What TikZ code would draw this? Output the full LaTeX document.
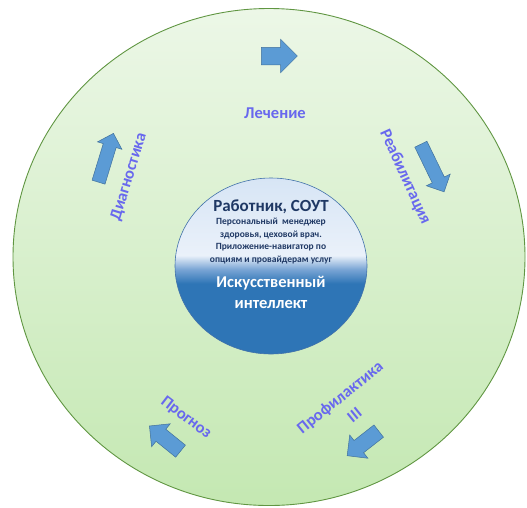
\documentclass[tikz,border=0pt]{standalone}
\usepackage{fontspec}
\setmainfont{Carlito}
\usetikzlibrary{shapes.geometric, shapes.arrows, positioning}
\definecolor{ringgreen}{RGB}{96,150,66}
\definecolor{ringtop}{RGB}{236,247,231}
\definecolor{ringbottom}{RGB}{196,232,178}
\definecolor{coredark}{RGB}{46,117,182}
\definecolor{coremid}{RGB}{120,164,212}
\definecolor{corepale}{RGB}{234,241,250}
\definecolor{corelight}{RGB}{215,229,245}
\definecolor{coreedge}{RGB}{65,113,170}
\definecolor{navytext}{RGB}{31,56,100}
\definecolor{stagetext}{RGB}{104,104,238}
\definecolor{arrowfill}{RGB}{91,155,213}
\definecolor{arrowedge}{RGB}{65,113,156}
\pgfdeclareverticalshading{coreshade}{100bp}{color(0bp)=(coredark); color(45bp)=(coredark);
  color(49bp)=(coremid); color(53bp)=(corepale); color(75bp)=(corelight); color(100bp)=(corelight)}
\tikzset{
  ring/.style={
    ellipse, draw=ringgreen, line width=0.9pt, top color=ringtop, bottom color=ringbottom,
    minimum width=512pt, minimum height=497pt, inner sep=0pt
  },
  core/.style={
    ellipse, draw=coreedge, line width=0.6pt, shade, shading=coreshade,
    minimum width=192pt, minimum height=176pt, inner sep=0pt
  },
  stage/.style={
    font=\fontsize{16.5}{17}\selectfont\bfseries, text=stagetext, align=center, inner sep=0pt
  },
  flow/.style={
    single arrow, draw=arrowedge, fill=arrowfill, line width=0.5pt, inner xsep=0pt,
    single arrow head indent=0pt, minimum width=0pt
  }
}
\begin{document}
\begin{tikzpicture}[x=1pt, y=-1pt]
  \useasboundingbox (0,0) rectangle (527,507);

  % Rings
  \node[ring] (ring) at (269,257) {};
  \node[core] (core) at (271,266) {};

  % Core texts
  \node[font=\fontsize{17}{18}\selectfont\bfseries, text=navytext] (role) at (271,207) {Работник, СОУТ};
  \node[font=\fontsize{9.5}{12.7}\selectfont\bfseries, text=navytext, align=center] (helpers) at (271,241)
    {Персональный\ \ менеджер\\здоровья, цеховой врач.\\Приложение-навигатор по\\опциям и провайдерам услуг};
  \node[font=\fontsize{16.5}{21}\selectfont\bfseries, text=white, align=center] (ai) at (271,292)
    {Искусственный\\интеллект};

  % Stages
  \node[stage] (treat) at (275,113) {Лечение};
  \node[stage, rotate=-65.6] (rehab) at (405,177) {Реабилитация};
  \node[stage, rotate=39, font=\fontsize{16.5}{23}\selectfont\bfseries] (prevent) at (347,406) {Профилактика\\III};
  \node[stage, rotate=-37.6] (prognosis) at (186,418) {Прогноз};
  \node[stage, rotate=73] (diagnosis) at (129,177) {Диагностика};

  % Flow arrows
  \node[flow, minimum height=36pt, inner ysep=8.5pt, single arrow head extend=8pt] (toTreat) at (275,56) {};
  \node[flow, rotate=-64, minimum height=53pt, inner ysep=6.5pt, single arrow head extend=6.5pt] (toRehab) at (431,165) {};
  \node[flow, rotate=-142, minimum height=40pt, inner ysep=7.5pt, single arrow head extend=7pt] (toPrevent) at (366,441) {};
  \node[flow, rotate=141, minimum height=40pt, inner ysep=7.5pt, single arrow head extend=7pt] (toPrognosis) at (168,441) {};
  \node[flow, rotate=73, minimum height=51pt, inner ysep=6.5pt, single arrow head extend=6pt] (toDiagnosis) at (105,161) {};
\end{tikzpicture}
\end{document}
